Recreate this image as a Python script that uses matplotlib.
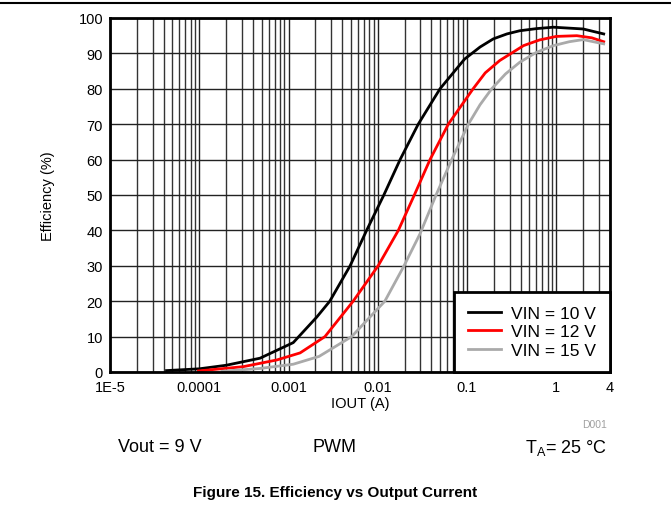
import matplotlib
matplotlib.use("Agg")
import matplotlib.pyplot as plt
from matplotlib.lines import Line2D

plt.rcParams['font.family'] = ['Liberation Sans', 'DejaVu Sans']

# VIN = 10 V
iout_10 = [4.3e-5, 1e-4, 2e-4, 4.8e-4, 1.13e-3, 2.07e-3, 2.9e-3, 4.9e-3, 7.5e-3,
           0.0117, 0.0178, 0.0284, 0.0498, 0.094, 0.14, 0.197, 0.28, 0.39, 0.6,
           0.93, 2.0, 3.4]
eff_10 = [0.4, 0.9, 1.9, 3.9, 8.3, 15.5, 20, 30, 40,
          50, 60, 70, 80, 88.4, 91.8, 94.1, 95.5, 96.4, 97.0,
          97.4, 96.9, 95.5]

# VIN = 12 V
iout_12 = [9.8e-5, 3.1e-4, 7.4e-4, 1.35e-3, 2.56e-3, 5.3e-3, 0.0101, 0.017,
           0.0257, 0.0385, 0.0617, 0.117, 0.16, 0.233, 0.43, 0.65, 1.0, 1.7,
           2.5, 3.4]
eff_12 = [0.3, 1.5, 3.4, 5.4, 10, 20, 30, 40,
          50, 60, 70, 80, 84.5, 88, 92.2, 93.8, 94.8, 95.0,
          94.4, 93.3]

# VIN = 15 V
iout_15 = [1.8e-4, 4.8e-4, 1.13e-3, 2.2e-3, 5.1e-3, 0.012, 0.0197, 0.0297,
           0.045, 0.0674, 0.1035, 0.14, 0.189, 0.27, 0.39, 0.6, 0.93, 1.4,
           2.0, 3.4]
eff_15 = [0.2, 1.0, 2.2, 4.4, 10, 20, 30, 39,
          50, 60, 70, 75.5, 80, 84.2, 87.5, 90.3, 92.2, 93.3,
          93.9, 92.7]

xticks = [1e-5, 1e-4, 1e-3, 1e-2, 0.1, 1, 4]
xticklabels = ['1E-5', '0.0001', '0.001', '0.01', '0.1', '1', '4']
yticks = list(range(0, 101, 10))

fig = plt.figure(figsize=(6.71, 5.10), dpi=100)
ax = fig.add_axes([110 / 671, 1 - 373 / 510, 500 / 671, 354 / 510])

ax.plot(iout_10, eff_10, color='black', lw=2, label='VIN = 10 V', zorder=3)
ax.plot(iout_12, eff_12, color='#ff0000', lw=2, label='VIN = 12 V', zorder=3)
ax.plot(iout_15, eff_15, color='#aaaaaa', lw=2, label='VIN = 15 V', zorder=3)

ax.set_xscale('log')
ax.set_xlim(1e-5, 4)
ax.set_ylim(0, 100)
ax.set_xticks(xticks)
ax.set_xticklabels(xticklabels)
ax.set_yticks(yticks)
ax.minorticks_on()
ax.yaxis.set_minor_locator(plt.NullLocator())
ax.tick_params(which='both', length=0, labelsize=10.5)
ax.tick_params(axis='y', pad=5)
ax.tick_params(axis='x', which='both', pad=5.5)
ax.tick_params(axis='x', which='minor', labelbottom=False)
ax.grid(True, which='major', color='#222222', lw=1)
ax.grid(True, which='minor', axis='x', color='#333333', lw=1)
for s in ax.spines.values():
    s.set_linewidth(2)
    s.set_zorder(4)

ax.set_xlabel('IOUT (A)', fontsize=10.5, labelpad=1.5)
ax.set_ylabel('Efficiency (%)', fontsize=10.5, labelpad=17)

leg = ax.legend(loc='lower right', fontsize=12.5, frameon=True, fancybox=False,
                borderaxespad=0, handlelength=1.9, borderpad=0.8,
                labelspacing=0.2, handletextpad=0.6)
leg.get_frame().set_edgecolor('black')
leg.get_frame().set_linewidth(2)
leg.get_frame().set_alpha(1)

fig.add_artist(Line2D([0, 1], [1 - 4 / 510, 1 - 4 / 510], color='black', lw=1.5))
fig.text(607 / 671, 1 - 425 / 510, 'D001', color='#a0a0a0', fontsize=7.5,
         ha='right', va='center')
fig.text(118 / 671, 1 - 448 / 510, 'Vout = 9 V', fontsize=13, ha='left', va='center')
fig.text(335 / 671, 1 - 448 / 510, 'PWM', fontsize=13, ha='center', va='center')
fig.text(607 / 671, 1 - 448 / 510, r'T$_\mathregular{A}$= 25 °C', fontsize=13,
         ha='right', va='center')
fig.text(335 / 671, 1 - 493 / 510, 'Figure 15. Efficiency vs Output Current',
         fontsize=11, fontweight='bold', ha='center', va='center')

fig.savefig('out.png', dpi=100)
